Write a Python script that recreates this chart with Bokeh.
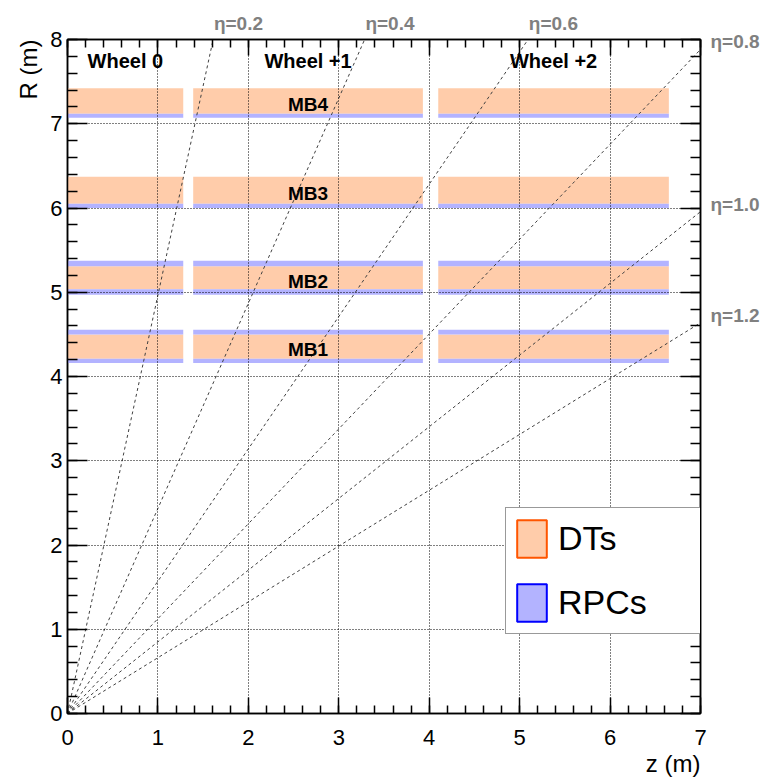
import math

from bokeh.core.properties import value
from bokeh.embed import file_html
from bokeh.models import (ColumnDataSource, CustomJSTickFormatter, FixedTicker, Grid,
                          Legend, LegendItem, LinearAxis, Range1d,
                          SingleIntervalTicker, Title)
from bokeh.plotting import figure
from bokeh.resources import INLINE

# Barrel wheels along z (m)
wheel_names = ["Wheel 0", "Wheel +1", "Wheel +2"]
wheel_z_min = [0.00, 1.39, 4.10]
wheel_z_max = [1.28, 3.93, 6.65]

# Muon stations along R (m)
stations = ["MB1", "MB2", "MB3", "MB4"]
dt_r_min = [4.21, 5.035, 6.05, 7.12]
dt_r_max = [4.50, 5.31, 6.37, 7.42]
rpc_in_r_min = [4.16, 4.97, 6.00, 7.07]
rpc_in_r_max = [4.21, 5.035, 6.05, 7.12]
# outer RPC layer only in MB1 and MB2
rpc_out_r_min = [4.50, 5.31]
rpc_out_r_max = [4.555, 5.375]

# Pseudorapidity reference lines
eta_values = [0.2, 0.4, 0.6, 0.8, 1.0, 1.2]
eta_labels = ["η=0.2", "η=0.4", "η=0.6", "η=0.8", "η=1.0", "η=1.2"]

Z_MAX, R_MAX = 7.0, 8.0
wheel_label_r = 7.75
mb_label_dr = -0.04       # station name slightly below the DT centre
eta_top_dz = 0.28         # top labels start at the line's exit point
eta_right_dr = 0.09       # right labels sit just above the exit point

DT_FILL = "#ffccaa"
DT_LINE = "#ff5500"
RPC_FILL = "#b3b3ff"
RPC_LINE = "#0000ff"
FONT = "Liberation Sans"

# chamber rectangles
dt = dict(left=[], right=[], bottom=[], top=[])
rpc = dict(left=[], right=[], bottom=[], top=[])
for z0, z1 in zip(wheel_z_min, wheel_z_max):
    for r0, r1 in zip(dt_r_min, dt_r_max):
        dt["left"].append(z0); dt["right"].append(z1)
        dt["bottom"].append(r0); dt["top"].append(r1)
    for r0, r1 in list(zip(rpc_in_r_min, rpc_in_r_max)) + list(zip(rpc_out_r_min, rpc_out_r_max)):
        rpc["left"].append(z0); rpc["right"].append(z1)
        rpc["bottom"].append(r0); rpc["top"].append(r1)

p = figure(width=769, height=779, x_range=Range1d(0, Z_MAX), y_range=Range1d(0, R_MAX),
           x_axis_type=None, y_axis_type=None, output_backend="svg", toolbar_location=None,
           min_border_left=67, min_border_right=69, min_border_top=39, min_border_bottom=66,
           background_fill_color="white", border_fill_color="white")
p.outline_line_color = "black"
p.outline_line_width = 1.5

p.quad(source=ColumnDataSource(dt), fill_color=DT_FILL, line_color=None)
p.quad(source=ColumnDataSource(rpc), fill_color=RPC_FILL, line_color=None)

# eta lines from the origin to the frame edge
x1, y1 = [], []
for eta in eta_values:
    slope = 1.0 / math.sinh(eta)
    if R_MAX / slope <= Z_MAX:
        x1.append(R_MAX / slope); y1.append(R_MAX)
    else:
        x1.append(Z_MAX); y1.append(Z_MAX * slope)
p.segment(x0=[0] * len(x1), y0=[0] * len(y1), x1=x1, y1=y1,
          line_color="#404040", line_width=1, line_dash="3 3")

# wheel and station names
wheel_centres = [(a + b) / 2 for a, b in zip(wheel_z_min, wheel_z_max)]
p.text(x=wheel_centres, y=[wheel_label_r] * 3,
       text=wheel_names, text_font=value(FONT), text_font_style="bold",
       text_font_size="20px", text_align="center", text_baseline="middle", text_color="black")
p.text(x=[wheel_centres[1]] * len(stations),
       y=[(a + b) / 2 + mb_label_dr for a, b in zip(dt_r_min, dt_r_max)],
       text=stations, text_font=value(FONT), text_font_style="bold",
       text_font_size="19px", text_align="center", text_baseline="middle", text_color="black")


# axes on all four sides, ticks pointing inward
def make_axis(major_in, minor_in, labels):
    ax = LinearAxis(ticker=SingleIntervalTicker(interval=1, num_minor_ticks=5))
    ax.axis_line_color = "black"
    ax.axis_line_width = 1.5
    ax.major_tick_line_width = 1.5
    ax.minor_tick_line_width = 1.5
    ax.major_tick_in = major_in
    ax.major_tick_out = 0
    ax.minor_tick_in = minor_in
    ax.minor_tick_out = 0
    ax.major_label_text_font = FONT
    ax.major_label_text_font_size = "22px"
    ax.major_label_text_color = "black"
    if not labels:
        ax.formatter = CustomJSTickFormatter(code="return ''")
        ax.major_label_text_font_size = "0px"
        ax.major_label_standoff = 0
    return ax


xb = make_axis(16, 8, True)
xb.major_label_standoff = 16
yl = make_axis(20, 10, True)
yl.major_label_standoff = 5
xt = make_axis(16, 8, False)
yr = make_axis(20, 10, False)
p.add_layout(xb, "below")
p.add_layout(yl, "left")
p.add_layout(xt, "above")
p.add_layout(yr, "right")

# axis titles flush with the far end of each axis
for side, text, gap in (("below", "z (m)", 0), ("left", "R (m)", 12)):
    p.add_layout(Title(text=text, align="right", text_font=FONT, text_font_style="normal",
                       text_font_size="24px", text_color="black", standoff=gap, offset=0),
                 side)

# eta names outside the frame, at the points where the lines leave it
top_ticks, top_names, right_ticks, right_names = [], [], [], []
for xe, ye, txt in zip(x1, y1, eta_labels):
    if ye >= R_MAX:
        top_ticks.append(xe + eta_top_dz); top_names.append(txt)
    else:
        right_ticks.append(ye + eta_right_dr); right_names.append(txt)


def eta_axis(ticks, names, standoff):
    ax = LinearAxis(ticker=FixedTicker(ticks=ticks, minor_ticks=[]),
                    major_label_overrides={t: n for t, n in zip(ticks, names)})
    ax.axis_line_color = None
    ax.major_tick_line_color = None
    ax.minor_tick_line_color = None
    ax.major_label_standoff = standoff
    ax.major_label_text_font = FONT
    ax.major_label_text_font_style = "bold"
    ax.major_label_text_font_size = "19px"
    ax.major_label_text_color = "#808080"
    return ax


p.add_layout(eta_axis(top_ticks, top_names, 0), "above")
p.add_layout(eta_axis(right_ticks, right_names, 4), "right")

for dim, ax in ((0, xb), (1, yl)):
    g = Grid(dimension=dim, ticker=ax.ticker, grid_line_color="black",
             grid_line_width=1, grid_line_dash="1 2", level="guide")
    p.add_layout(g)

# legend swatches: outlined boxes, not drawn in the plot area
nan = float("nan")
leg_dt = p.quad(left=[nan], right=[nan], bottom=[nan], top=[nan], fill_color=DT_FILL,
                line_color=DT_LINE, line_width=2)
leg_rpc = p.quad(left=[nan], right=[nan], bottom=[nan], top=[nan], fill_color=RPC_FILL,
                 line_color=RPC_LINE, line_width=2)
legend = Legend(items=[LegendItem(label="DTs", renderers=[leg_dt]),
                       LegendItem(label="RPCs", renderers=[leg_rpc])],
                location=(438, 79), glyph_width=37, glyph_height=47,
                label_text_font=FONT, label_text_font_size="34px", label_text_color="black",
                spacing=17, padding=7, label_standoff=8, label_width=139, margin=0,
                border_line_color="#333333", border_line_width=1.5,
                background_fill_color="white", background_fill_alpha=1.0)
p.add_layout(legend)

open("out.html", "w").write(file_html(p, INLINE))
